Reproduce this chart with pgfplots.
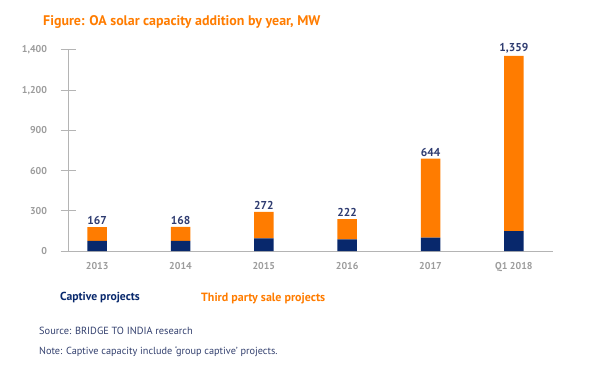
\documentclass[border=0pt]{standalone}
\usepackage{fontspec}
\setmainfont{PT Sans}
\usepackage{pgfplots}
\pgfplotsset{compat=1.18}
\usepackage{pgfplotstable}
\definecolor{orng}{HTML}{FF7C00}
\definecolor{navy}{HTML}{08286C}
\definecolor{lblue}{HTML}{2E3B70}
\definecolor{axgray}{HTML}{B4B4B4}
\definecolor{tickgray}{HTML}{9C9C9C}
\definecolor{srcblue}{HTML}{33406E}
\pgfplotstableread{
x cap third total label
0 70 97 167 167
1 70 98 168 168
2 88 184 272 272
3 81 141 222 222
4 93 551 644 644
5 139 1220 1359 1,359
}\datatab
\begin{document}
\begin{tikzpicture}[x=1bp,y=1bp]
\path[use as bounding box] (0,0) rectangle (600,370);
\begin{axis}[
  at={(68bp,119bp)}, anchor=south west,
  width=485bp, height=201bp, scale only axis,
  xmin=-0.35, xmax=5.47, ymin=0, ymax=1400,
  ytick={0,280,560,840,1120,1400},
  yticklabels={0,300,600,900,{1,200},{1,400}},
  xtick={0,1,2,3,4,5},
  xticklabels={2013,2014,2015,2016,2017,Q1 2018},
  axis x line*=bottom, axis y line*=left,
  axis line style={axgray, line width=1bp},
  x tick style={draw=none},
  y tick style={axgray, line width=1bp},
  tick align=center, major tick length=15bp,
  ticklabel style={font=\bfseries\fontsize{10}{12}\selectfont, text=tickgray},
  yticklabel style={xshift=-10bp},
  ybar stacked, bar width=19.5bp,
  clip=false,
]
\addplot[fill=navy, draw=none] table[x=x, y=cap] {\datatab};
\addplot[fill=orng, draw=none] table[x=x, y=third] {\datatab};
\end{axis}
\begin{axis}[
  at={(68bp,119bp)}, anchor=south west,
  width=485bp, height=201bp, scale only axis,
  xmin=-0.35, xmax=5.47, ymin=0, ymax=1400,
  hide axis, clip=false,
]
\addplot[only marks, mark=none,
  point meta=explicit symbolic,
  nodes near coords={\pgfplotspointmeta},
  nodes near coords style={font=\bfseries\fontsize{11.5}{14}\selectfont, text=lblue, inner sep=2bp, anchor=south}
] table[x=x, y=total, meta=label] {\datatab};
\end{axis}
\node[anchor=west, text=orng, font=\bfseries\fontsize{14}{16}\selectfont, inner sep=0pt] at (43,348) {Figure: OA solar capacity addition by year, MW};
\node[anchor=west, text=navy, font=\bfseries\fontsize{11.7}{13}\selectfont, inner sep=0pt] at (60,72) {Captive projects};
\node[anchor=west, text=orng, font=\bfseries\fontsize{12}{14}\selectfont, inner sep=0pt] at (201,72) {Third party sale projects};
\node[anchor=west, text=srcblue, font=\fontsize{10.4}{12}\selectfont, inner sep=0pt] at (39,39) {Source: BRIDGE TO INDIA research};
\node[anchor=west, text=srcblue, font=\fontsize{10.3}{12}\selectfont, inner sep=0pt] at (39,18) {Note: Captive capacity include ‘group captive’ projects.};
\end{tikzpicture}
\end{document}
